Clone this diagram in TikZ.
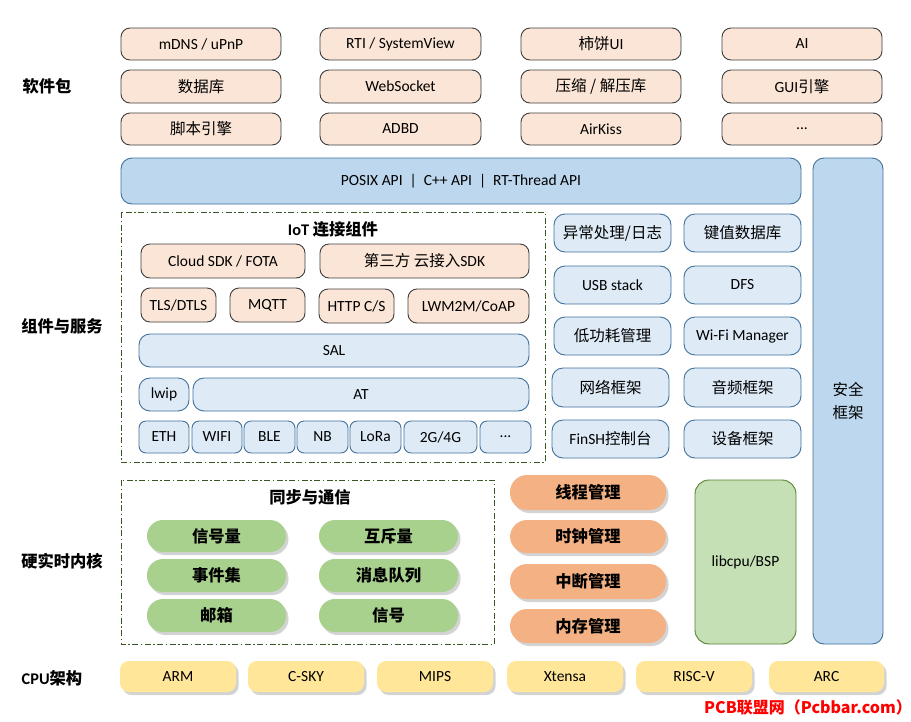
\documentclass[tikz,border=0pt]{standalone}
\usepackage{fontspec}
\setmainfont{Carlito}
\newfontfamily\cjk{Noto Sans CJK SC}
\usetikzlibrary{shadows}
\newcommand\zh[1]{{\cjk #1}}
\newcommand\fs{\fontsize{15.5}{19}\selectfont}
\newcommand\fb{\fontsize{16.3}{19}\selectfont\bfseries}
\definecolor{pkfill}{HTML}{FBE5D6}
\definecolor{pkline}{HTML}{3F3F3F}
\definecolor{bfill}{HTML}{BDD7EE}
\definecolor{lbfill}{HTML}{DEEBF7}
\definecolor{bline}{HTML}{41719C}
\definecolor{gfill}{HTML}{A9D18E}
\definecolor{ofill}{HTML}{F4B183}
\definecolor{lgfill}{HTML}{C5E0B4}
\definecolor{lgline}{HTML}{548235}
\definecolor{yfill}{HTML}{FFE699}
\definecolor{dline}{HTML}{385723}
\tikzset{
  base/.style={inner sep=0pt, outer sep=0pt, font=\fs, text=black},
  peach/.style={base, draw=pkline, fill=pkfill, rounded corners=9pt, line width=0.9pt},
  bluebar/.style={base, draw=bline, fill=bfill, rounded corners=11pt, line width=0.9pt},
  lblue/.style={base, draw=bline, fill=lbfill, rounded corners=11pt, line width=0.9pt},
  shad/.style={drop shadow={opacity=0.35, shadow xshift=2.5pt, shadow yshift=-3pt}},
  gpill/.style={base, fill=gfill, rounded corners=16pt, shad, font=\fb},
  opill/.style={base, fill=ofill, rounded corners=17pt, shad, font=\fb},
  ybox/.style={base, fill=yfill, rounded corners=9pt, shad, font=\fontsize{15.5}{18}\selectfont},
  lgbox/.style={base, draw=lgline, fill=lgfill, rounded corners=14pt, line width=0.9pt},
  dashbox/.style={draw=dline, line width=0.9pt, dash pattern=on 6pt off 2.5pt on 1.5pt off 2.5pt},
  sidelabel/.style={font=\fb, text=black, inner sep=0pt},
}
\newcommand\bx[7]{%
  \node[#1, minimum width={(#5)-(#3)}, minimum height={(#6)-(#4)}, align=center] (#2) at ({((#3)+(#5))/2},{((#4)+(#6))/2}) {#7};}
\begin{document}
\begin{tikzpicture}[x=1pt,y=-1pt]
\useasboundingbox (0,0) rectangle (911,721);
% side labels
\node[sidelabel] (lsw) at (47,86) {\zh{软件包}};
\node[sidelabel] (lzj) at (62,326) {\zh{组件与服务}};
\node[sidelabel] (lnh) at (62,561) {\zh{硬实时内核}};
\node[sidelabel] (lcpu) at (52,678) {CPU\zh{架构}};
% software packages
\bx{peach}{p11}{121}{28}{281}{60}{mDNS / uPnP}
\bx{peach}{p12}{320}{28}{481}{60}{RTI / SystemView}
\bx{peach}{p13}{521}{28}{681}{60}{\zh{柿饼}UI}
\bx{peach}{p14}{722}{28}{882}{60}{AI}
\bx{peach}{p21}{121}{70}{281}{103}{\zh{数据库}}
\bx{peach}{p22}{320}{70}{481}{103}{WebSocket}
\bx{peach}{p23}{521}{70}{681}{103}{\zh{压缩 / 解压库}}
\bx{peach}{p24}{722}{70}{882}{103}{GUI\zh{引擎}}
\bx{peach}{p31}{121}{113}{281}{145}{\zh{脚本引擎}}
\bx{peach}{p32}{320}{113}{481}{145}{ADBD}
\bx{peach}{p33}{521}{113}{681}{145}{AirKiss}
\bx{peach}{p34}{722}{113}{882}{145}{...}
% API bar and security
\bx{bluebar}{api}{121}{158}{801}{204}{POSIX API \ \textbar\ \ C++ API \ \textbar\ \ RT-Thread API}
\bx{bluebar}{sec}{813}{158}{883}{644}{\zh{安全}\\[4pt]\zh{框架}}
% IoT box
\draw[dashbox] (121,212) rectangle (545,462);
\node[base, font=\fb] (iott) at (333,229) {IoT \zh{连接组件}};
\bx{peach}{cloud}{141}{244}{305}{278}{Cloud SDK / FOTA}
\bx{peach}{third}{320}{244}{529}{278}{\zh{第三方 云接入}SDK}
\bx{peach}{tls}{141}{288}{216}{322}{TLS/DTLS}
\bx{peach}{mqtt}{230}{288}{305}{322}{MQTT}
\bx{peach}{http}{319}{289}{394}{323}{HTTP C/S}
\bx{peach}{lwm}{408}{289}{529}{323}{LWM2M/CoAP}
\bx{lblue}{sal}{139}{334}{529}{367}{SAL}
\bx{lblue}{lwip}{139}{378}{189}{411}{lwip}
\bx{lblue}{at}{193}{378}{529}{411}{AT}
\tikzset{sm/.style={lblue, rounded corners=7pt}}
\bx{sm}{eth}{139}{421}{189}{453}{ETH}
\bx{sm}{wifi}{192}{421}{242}{453}{WIFI}
\bx{sm}{ble}{244}{421}{295}{453}{BLE}
\bx{sm}{nb}{297}{421}{348}{453}{NB}
\bx{sm}{lora}{350}{421}{401}{453}{LoRa}
\bx{sm}{g4}{404}{421}{477}{453}{2G/4G}
\bx{sm}{dots}{480}{421}{531}{453}{...}
% right column components
\bx{lblue}{r11}{554}{214}{671}{252}{\zh{异常处理/日志}}
\bx{lblue}{r12}{684}{214}{801}{252}{\zh{键值数据库}}
\bx{lblue}{r21}{554}{266}{671}{304}{USB stack}
\bx{lblue}{r22}{684}{266}{801}{304}{DFS}
\bx{lblue}{r31}{554}{317}{671}{355}{\zh{低功耗管理}}
\bx{lblue}{r32}{684}{317}{801}{355}{Wi-Fi Manager}
\bx{lblue}{r41}{552}{368}{669}{407}{\zh{网络框架}}
\bx{lblue}{r42}{684}{368}{801}{407}{\zh{音频框架}}
\bx{lblue}{r51}{552}{420}{669}{458}{FinSH\zh{控制台}}
\bx{lblue}{r52}{684}{420}{801}{458}{\zh{设备框架}}
% sync & comm
\draw[dashbox] (121,480) rectangle (494,644);
\node[base, font=\fb] (synct) at (310,497) {\zh{同步与通信}};
\bx{gpill}{g11}{147}{520}{286}{552}{\zh{信号量}}
\bx{gpill}{g12}{319}{520}{458}{552}{\zh{互斥量}}
\bx{gpill}{g21}{147}{559}{286}{592}{\zh{事件集}}
\bx{gpill}{g22}{319}{559}{458}{592}{\zh{消息队列}}
\bx{gpill}{g31}{147}{599}{286}{632}{\zh{邮箱}}
\bx{gpill}{g32}{319}{599}{458}{632}{\zh{信号}}
% kernel
\bx{opill}{o1}{510}{475}{666}{510}{\zh{线程管理}}
\bx{opill}{o2}{510}{520}{666}{553}{\zh{时钟管理}}
\bx{opill}{o3}{510}{564}{666}{599}{\zh{中断管理}}
\bx{opill}{o4}{510}{609}{666}{643}{\zh{内存管理}}
\bx{lgbox}{bsp}{695}{480}{796}{644}{libcpu/BSP}
% cpu arch
\bx{ybox}{arm}{120}{661}{236}{692}{ARM}
\bx{ybox}{csky}{248}{661}{364}{692}{C-SKY}
\bx{ybox}{mips}{377}{661}{493}{692}{MIPS}
\bx{ybox}{xt}{507}{661}{623}{692}{Xtensa}
\bx{ybox}{riscv}{636}{661}{752}{692}{RISC-V}
\bx{ybox}{arc}{769}{661}{884}{692}{ARC}
% watermark
\node[inner sep=0pt, text=red, font=\fontsize{16}{18}\selectfont\cjk\bfseries] (wm) at (808,707) {PCB联盟网（Pcbbar.com）};
\end{tikzpicture}
\end{document}
